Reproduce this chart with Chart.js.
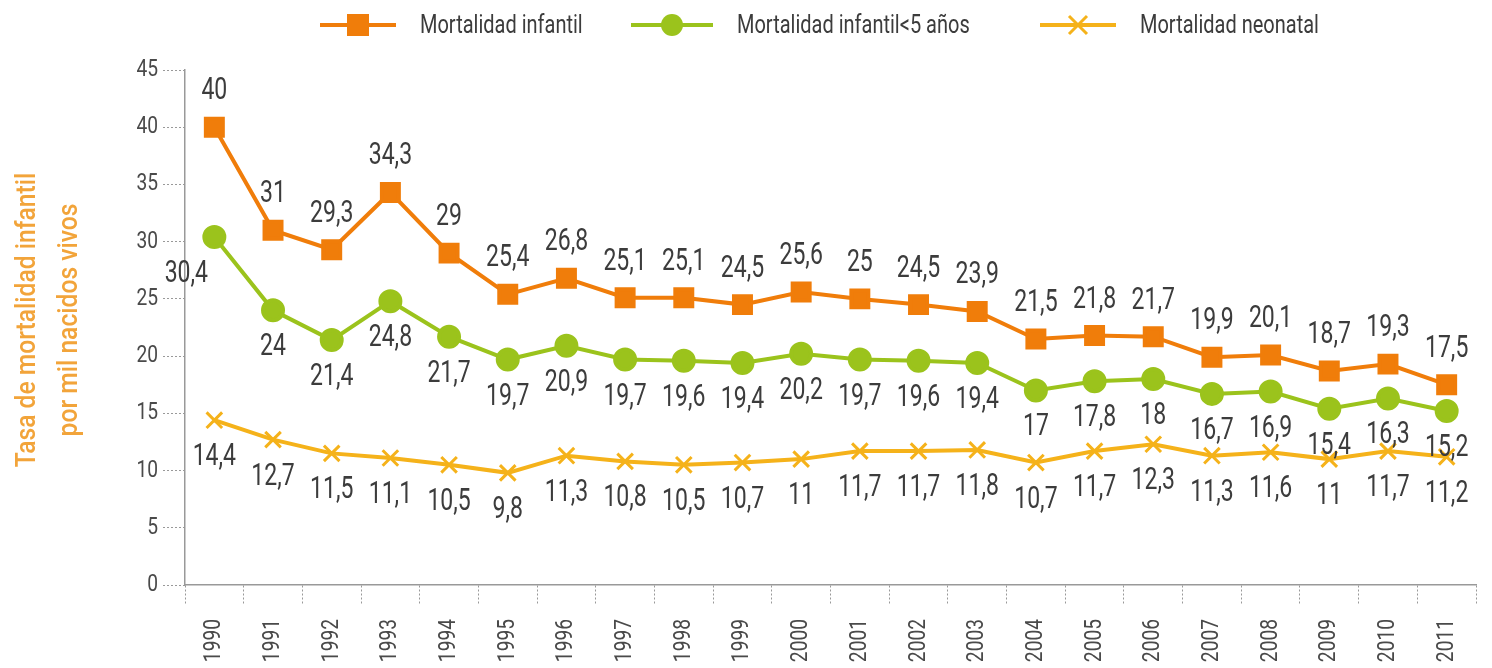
<!DOCTYPE html>
<html>
<head>
<meta charset="utf-8">
<script src="https://cdn.jsdelivr.net/npm/chart.js@4"></script>
<style>
  html, body { margin: 0; padding: 0; background: #fff; }
  #wrap { position: relative; width: 1492px; height: 668px; }
  #legend { position: absolute; top: 9px; left: 0; width: 1492px; height: 34px; }
  .item { position: absolute; top: 0; height: 32px; }
  .item svg { position: absolute; top: 0; left: 0; }
  .item span { position: absolute; top: 1px; white-space: nowrap; display: inline-block;
    font-family: Roboto, sans-serif; font-size: 25px; color: #3c3c3c;
    transform: scaleX(0.8); transform-origin: left center; }
</style>
</head>
<body>
<div id="wrap">
  <canvas id="chart" width="1492" height="668"></canvas>
  <div id="legend"></div>
</div>
<script>
const years = ["1990","1991","1992","1993","1994","1995","1996","1997","1998","1999","2000","2001","2002","2003","2004","2005","2006","2007","2008","2009","2010","2011"];
const infantil = [40, 31, 29.3, 34.3, 29, 25.4, 26.8, 25.1, 25.1, 24.5, 25.6, 25, 24.5, 23.9, 21.5, 21.8, 21.7, 19.9, 20.1, 18.7, 19.3, 17.5];
const menores5 = [30.4, 24, 21.4, 24.8, 21.7, 19.7, 20.9, 19.7, 19.6, 19.4, 20.2, 19.7, 19.6, 19.4, 17, 17.8, 18, 16.7, 16.9, 15.4, 16.3, 15.2];
const neonatal = [14.4, 12.7, 11.5, 11.1, 10.5, 9.8, 11.3, 10.8, 10.5, 10.7, 11, 11.7, 11.7, 11.8, 10.7, 11.7, 12.3, 11.3, 11.6, 11, 11.7, 11.2];
const seriesNames = ["Mortalidad infantil", "Mortalidad infantil<5 años", "Mortalidad neonatal"];
const yTicks = [0, 5, 10, 15, 20, 25, 30, 35, 40, 45];
const yTitle = ["Tasa de mortalidad infantil", "por mil nacidos vivos"];

const ORANGE = "#f07d0a";
const GREEN = "#9bc31c";
const YELLOW = "#f5b21a";
const TEXT = "#3c3c3c";

// legend drawn as html: short line with the marker on it
function legendIcon(color, kind, w) {
  const c = w / 2;
  let mark = "";
  if (kind === "rect") mark = `<rect x="${c - 11}" y="5" width="22" height="22" fill="${color}"/>`;
  if (kind === "circle") mark = `<circle cx="${c}" cy="16" r="11" fill="${color}"/>`;
  if (kind === "cross") mark = `<path d="M${c - 9} 7 L${c + 9} 25 M${c + 9} 7 L${c - 9} 25" stroke="${color}" stroke-width="3"/>`;
  return `<svg width="${w}" height="32"><line x1="0" y1="16" x2="${w}" y2="16" stroke="${color}" stroke-width="4"/>${mark}</svg>`;
}
const legendItems = [
  { left: 320, w: 76, textLeft: 100, color: ORANGE, kind: "rect" },
  { left: 631, w: 82, textLeft: 106, color: GREEN, kind: "circle" },
  { left: 1040, w: 76, textLeft: 100, color: YELLOW, kind: "cross" },
];
document.getElementById("legend").innerHTML = legendItems
  .map((it, i) => `<div class="item" style="left:${it.left}px">${legendIcon(it.color, it.kind, it.w)}<span style="left:${it.textLeft}px">${seriesNames[i]}</span></div>`)
  .join("");

// narrow text, the source uses a condensed face
function narrowText(ctx, txt, x, y, sx, angle) {
  ctx.save();
  ctx.translate(x, y);
  if (angle) ctx.rotate(angle);
  ctx.scale(sx, 1);
  ctx.fillText(txt, 0, 0);
  ctx.restore();
}

const labelOffsets = [-36, 37, 37];

const textLayer = {
  id: "textLayer",
  afterDraw(chart) {
    const ctx = chart.ctx;
    const xs = chart.scales.x;
    const ys = chart.scales.y;
    ctx.save();

    // y tick labels
    ctx.fillStyle = "#4a4a4a";
    ctx.font = "24px Roboto, sans-serif";
    ctx.textAlign = "right";
    ctx.textBaseline = "middle";
    yTicks.forEach((v) => narrowText(ctx, String(v), ys.left - 5, ys.getPixelForValue(v), 0.8));

    // x tick labels, rotated
    ctx.font = "24px Roboto, sans-serif";
    ctx.textAlign = "right";
    years.forEach((yr, i) => narrowText(ctx, yr, xs.getPixelForValue(i), xs.top + 34, 0.8, -Math.PI / 2));

    // y axis title
    ctx.fillStyle = "#f2a43a";
    ctx.font = "500 28px Roboto, sans-serif";
    ctx.textAlign = "center";
    const cy = 320;
    narrowText(ctx, yTitle[0], 28, cy, 0.88, -Math.PI / 2);
    narrowText(ctx, yTitle[1], 70, cy, 0.88, -Math.PI / 2);

    // value labels
    ctx.fillStyle = TEXT;
    ctx.font = "32px Roboto, sans-serif";
    ctx.textAlign = "center";
    chart.data.datasets.forEach((ds, di) => {
      const meta = chart.getDatasetMeta(di);
      meta.data.forEach((pt, i) => {
        const txt = String(ds.data[i]).replace(".", ",");
        const dx = di === 1 && i === 0 ? -28 : 0;
        narrowText(ctx, txt, pt.x + dx, pt.y + labelOffsets[di], 0.72);
      });
    });
    ctx.restore();
  },
};

new Chart(document.getElementById("chart"), {
  type: "line",
  data: {
    labels: years,
    datasets: [
      { label: seriesNames[0], data: infantil, borderColor: ORANGE, backgroundColor: ORANGE, borderWidth: 4,
        pointStyle: "rect", pointRadius: 12, pointHoverRadius: 12, tension: 0 },
      { label: seriesNames[1], data: menores5, borderColor: GREEN, backgroundColor: GREEN, borderWidth: 4,
        pointStyle: "circle", pointRadius: 10, pointHoverRadius: 10, tension: 0 },
      { label: seriesNames[2], data: neonatal, borderColor: YELLOW, backgroundColor: YELLOW, borderWidth: 4,
        pointStyle: "crossRot", pointRadius: 11, pointBorderWidth: 3, pointHoverRadius: 11, tension: 0 },
    ],
  },
  options: {
    responsive: false,
    animation: false,
    layout: { padding: { top: 70, right: 5, left: 163, bottom: 63 } },
    plugins: {
      legend: { display: false },
      tooltip: { enabled: false },
    },
    scales: {
      x: {
        offset: true,
        grid: { offset: true, drawOnChartArea: false, tickLength: 20, tickBorderDash: [2, 2], tickColor: "#999" },
        border: { dash: [2, 2], color: "#999", width: 1.5 },
        ticks: { display: false },
      },
      y: {
        min: 0,
        max: 45,
        afterBuildTicks(axis) { axis.ticks = yTicks.map((v) => ({ value: v })); },
        grid: { drawOnChartArea: false, tickLength: 22, tickBorderDash: [2, 2], tickColor: "#999" },
        border: { dash: [2, 2], color: "#999", width: 1.5 },
        ticks: { display: false },
      },
    },
  },
  plugins: [textLayer],
});
</script>
</body>
</html>
